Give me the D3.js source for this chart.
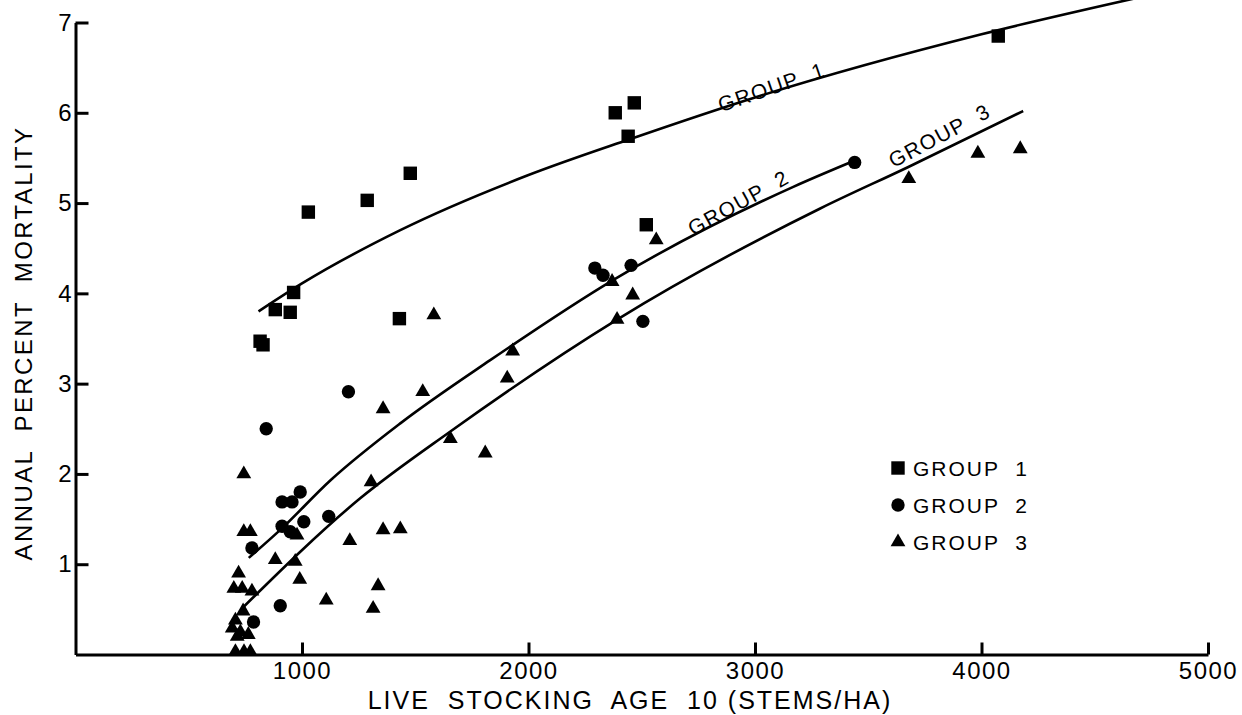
<html>
<head>
<meta charset="utf-8" />
<title>Annual percent mortality vs live stocking</title>
<script src="https://d3js.org/d3.v7.min.js"></script>
<style>
    body { margin: 0px; background: #fff; }
    text { font-family: "Liberation Sans", Arial, sans-serif; fill: #000; }
</style>
</head>
<body>
<script>
// point data: [stems/ha, annual % mortality]
var group1 = [[815,3.47],[828,3.43],[882,3.82],[948,3.79],[963,4.01],[1028,4.90],[1288,5.03],
    [1478,5.33],[1430,3.72],[2383,6.00],[2467,6.11],[2440,5.74],[2520,4.76],[4074,6.85]];
var group2 = [[842,2.50],[1205,2.91],[912,1.69],[956,1.69],[992,1.80],[912,1.42],[948,1.36],
    [1008,1.47],[1118,1.53],[779,1.18],[904,0.54],[786,0.36],[2293,4.28],[2329,4.20],
    [2453,4.31],[2505,3.69],[3440,5.45]];
var group3 = [[743,2.00],[743,1.36],[772,1.36],[720,0.90],[699,0.73],[736,0.73],[779,0.70],
    [740,0.48],[706,0.38],[692,0.29],[728,0.25],[763,0.22],[714,0.20],[706,0.03],[744,0.03],
    [772,0.03],[882,1.05],[970,1.03],[990,0.83],[978,1.32],[1107,0.60],[1211,1.26],[1314,0.51],
    [1336,0.76],[1358,1.38],[1434,1.39],[1305,1.91],[1358,2.72],[1533,2.91],[1582,3.76],
    [1930,3.36],[1906,3.06],[1655,2.39],[1809,2.23],[2564,4.59],[2369,4.13],[2460,3.98],
    [2391,3.71],[3679,5.27],[3984,5.55],[4171,5.60]];

// fitted curves, also
var curve1 = [[808,3.80],[1000,4.11],[1434,4.70],[2000,5.31],[2450,5.71],[3000,6.17],
    [4000,6.87],[4700,7.28]];
var curve2 = [[765,1.07],[904,1.38],[1126,1.93],[1434,2.56],[1831,3.26],[2375,4.15],[3169,5.18],
    [3420,5.45]];
var curve3 = [[735,0.51],[1257,1.73],[1655,2.47],[2391,3.71],[3288,4.94],[3677,5.40],
    [4184,6.02]];

var xTicks = [1000, 2000, 3000, 4000, 5000];
var yTicks = [1, 2, 3, 4, 5, 6, 7];
var groupNames = ["GROUP  1", "GROUP  2", "GROUP  3"];

var width = 1242, height = 715;

var svg = d3.select("body").append("svg")
    .attr("width", width)
    .attr("height", height);

var x = d3.scaleLinear().domain([0, 5000]).range([75.5, 1208]);
var y = d3.scaleLinear().domain([0, 7]).range([654.5, 22.5]);

// axes, ticks point inward
var xAxis = svg.append("g")
    .attr("transform", "translate(0," + y(0) + ")")
    .call(d3.axisBottom(x).tickValues(xTicks).tickFormat(d3.format("d"))
        .tickSizeInner(-12).tickSizeOuter(0));
xAxis.selectAll("text")
    .attr("y", 24)
    .attr("dy", 0)
    .attr("font-size", 24)
    .attr("letter-spacing", 1.5)
    .attr("font-family", "Liberation Sans, Arial, sans-serif");

var yAxis = svg.append("g")
    .attr("transform", "translate(" + x(0) + ",0)")
    .call(d3.axisLeft(y).tickValues(yTicks).tickFormat(d3.format("d"))
        .tickSizeInner(-13).tickSizeOuter(0).tickPadding(4));
yAxis.selectAll("text")
    .attr("font-size", 24)
    .attr("font-family", "Liberation Sans, Arial, sans-serif");

svg.selectAll(".domain, .tick line")
    .attr("stroke", "#000")
    .attr("stroke-width", 3);

// axis titles
svg.append("text")
    .attr("x", 630)
    .attr("y", 709)
    .attr("text-anchor", "middle")
    .attr("font-size", 25)
    .attr("letter-spacing", 2)
    .style("white-space", "pre")
    .text("LIVE  STOCKING  AGE  10 (STEMS/HA)");

svg.append("text")
    .attr("transform", "translate(32,343) rotate(-90)")
    .attr("text-anchor", "middle")
    .attr("font-size", 24)
    .attr("letter-spacing", 2.4)
    .style("white-space", "pre")
    .text("ANNUAL  PERCENT  MORTALITY");

// fitted curves
var line = d3.line()
    .x(d => x(d[0]))
    .y(d => y(d[1]))
    .curve(d3.curveMonotoneX);

[curve1, curve2, curve3].forEach(function(c) {
    svg.append("path")
        .datum(c)
        .attr("d", line)
        .attr("fill", "none")
        .attr("stroke", "#000")
        .attr("stroke-width", 2.6);
});

// curve labels
var labelPos = [[774, 94, -19], [742, 209, -29], [943, 142, -28]];
labelPos.forEach(function(p, i) {
    svg.append("text")
        .attr("transform", "translate(" + p[0] + "," + p[1] + ") rotate(" + p[2] + ")")
        .attr("text-anchor", "middle")
        .attr("font-size", 21)
        .attr("letter-spacing", 1.5)
        .style("white-space", "pre")
        .text(groupNames[i]);
});

// markers
var sq = d3.symbol().type(d3.symbolSquare).size(180);
var ci = d3.symbol().type(d3.symbolCircle).size(140);
var tri = d3.symbol().type(d3.symbolTriangle).size(95);

function drawPoints(data, sym) {
    svg.append("g")
        .selectAll("path")
        .data(data)
        .enter()
        .append("path")
            .attr("d", sym)
            .attr("transform", d => "translate(" + x(d[0]) + "," + y(d[1]) + ")")
            .attr("fill", "#000");
}
drawPoints(group1, sq);
drawPoints(group2, ci);
drawPoints(group3, tri);

// legend
var legend = svg.append("g");
[sq, ci, tri].forEach(function(sym, i) {
    var ly = 468 + i * 37;
    legend.append("path")
        .attr("d", sym)
        .attr("transform", "translate(898," + ly + ")")
        .attr("fill", "#000");
    legend.append("text")
        .attr("x", 913)
        .attr("y", ly + 8)
        .attr("font-size", 21)
        .attr("letter-spacing", 2)
        .style("white-space", "pre")
        .text(groupNames[i]);
});
</script>
</body>
</html>
